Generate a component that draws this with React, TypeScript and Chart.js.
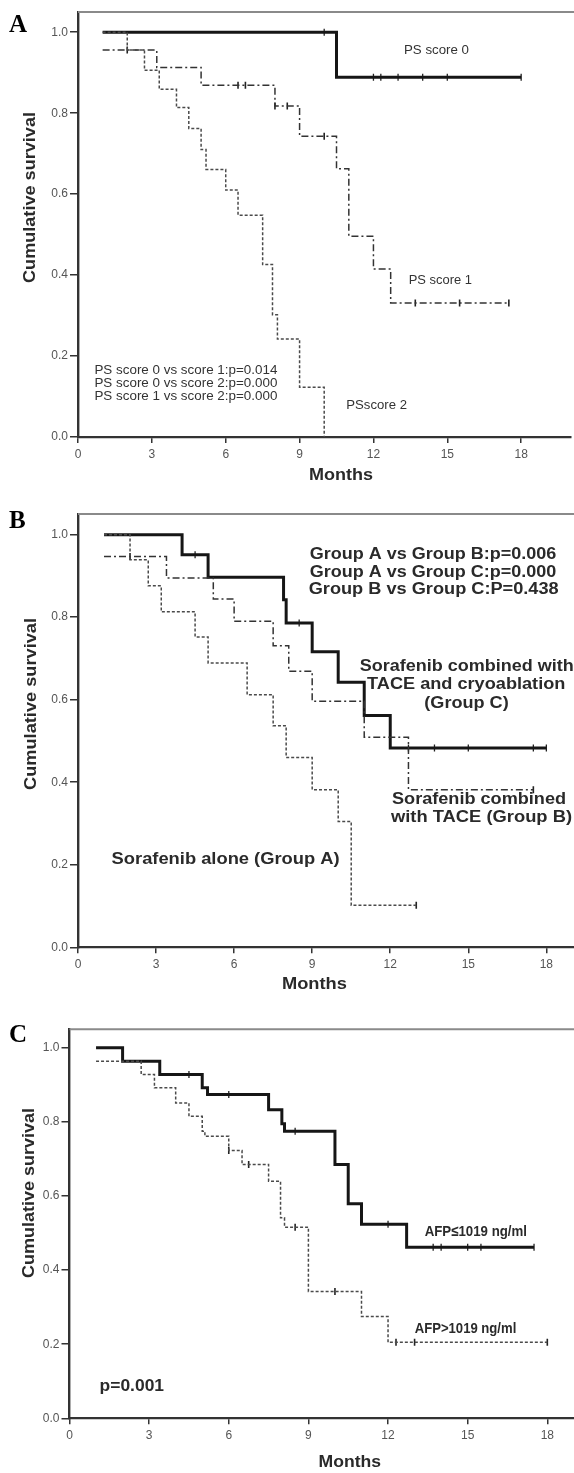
import React, { useEffect, useRef } from "react";
import { Chart, registerables } from "chart.js";

Chart.register(...registerables);

// ---------- shared axis ticks ----------
const monthTicks = [0, 3, 6, 9, 12, 15, 18];
const survivalTicks = [0, 0.2, 0.4, 0.6, 0.8, 1.0];

// ---------- Panel A: PS score ----------
const ps0Times = [1, 10.5, 18];
const ps0Surv = [1.0, 0.889, 0.889];
const ps0Censored = [10.0, 12.0, 12.3, 13.0, 14.0, 15.0, 18.0];

const ps1Times = [1, 3.2, 5.0, 8.0, 9.0, 10.5, 11.0, 12.0, 12.7, 17.5];
const ps1Surv = [0.956, 0.913, 0.869, 0.818, 0.743, 0.663, 0.496, 0.415, 0.331, 0.331];
const ps1Censored = [2.0, 6.5, 6.8, 8.0, 8.5, 10.0, 13.7, 15.5, 17.5];

const ps2Times = [1, 2.0, 2.7, 3.3, 4.0, 4.5, 5.0, 5.2, 6.0, 6.5, 7.5, 7.9, 8.1, 9.0, 10.0];
const ps2Surv = [1.0, 0.956, 0.906, 0.859, 0.814, 0.762, 0.71, 0.661, 0.61, 0.548, 0.426, 0.302, 0.242, 0.123, 0.0];
const ps2Censored: number[] = [];

// ---------- Panel B: treatment groups ----------
const grpCTimes = [1, 4.0, 5.0, 7.9, 8.0, 9.0, 10.0, 11.0, 12.0, 18.0];
const grpCSurv = [1.0, 0.951, 0.897, 0.842, 0.786, 0.716, 0.642, 0.562, 0.483, 0.483];
const grpCCensored = [4.5, 8.5, 12.7, 13.7, 15.0, 17.5, 18.0];

const grpBTimes = [1, 3.4, 5.2, 6.0, 7.5, 8.1, 9.0, 11.0, 12.7, 17.5];
const grpBSurv = [0.947, 0.895, 0.844, 0.79, 0.731, 0.669, 0.596, 0.509, 0.382, 0.382];
const grpBCensored = [2.0, 17.5];

const grpATimes = [1, 2.0, 2.7, 3.2, 4.5, 5.0, 6.5, 7.5, 8.0, 9.0, 10.0, 10.5, 13.0];
const grpASurv = [1.0, 0.939, 0.876, 0.813, 0.752, 0.689, 0.612, 0.537, 0.46, 0.382, 0.305, 0.102, 0.102];
const grpACensored = [13.0];

// ---------- Panel C: AFP ----------
const afpLowTimes = [1, 2.0, 3.4, 5.0, 5.2, 7.5, 8.0, 8.1, 10.0, 10.5, 11.0, 12.7, 17.5];
const afpLowSurv = [1.0, 0.964, 0.928, 0.892, 0.874, 0.833, 0.795, 0.775, 0.685, 0.579, 0.524, 0.462, 0.462];
const afpLowCensored = [4.5, 6.0, 8.5, 12.0, 13.7, 14.0, 15.0, 15.5, 17.5];

const afpHighTimes = [1, 2.7, 3.2, 4.0, 4.5, 5.0, 5.1, 6.0, 6.5, 7.5, 7.95, 8.1, 9.0, 11.0, 12.0, 18.0];
const afpHighSurv = [0.964, 0.928, 0.892, 0.851, 0.815, 0.775, 0.761, 0.723, 0.685, 0.64, 0.541, 0.516, 0.342, 0.275, 0.205, 0.205];
const afpHighCensored = [6.0, 6.75, 8.5, 10.0, 12.3, 13.0, 18.0];

// ---------- helpers ----------
const SANS = '"Liberation Sans", Arial, Helvetica, sans-serif';
const SERIF = '"Liberation Serif", "Times New Roman", serif';

type LineKind = "solid" | "dashdot" | "dotted";

interface Series {
  times: number[];
  surv: number[];
  censored: number[];
  kind: LineKind;
}

interface TextSpec {
  text: string;
  x: number;
  y: number;
  size: number;
  bold?: boolean;
  align?: "left" | "center";
  width?: number;
  rotate?: boolean;
  color?: string;
  serif?: boolean;
  baseline?: "middle" | "alphabetic";
}

interface PanelCfg {
  top: number;
  width: number;
  height: number;
  left: number;
  chartTop: number;
  chartBottom: number;
  series: Series[];
  texts: TextSpec[];
}

function survAt(times: number[], surv: number[], t: number) {
  let v = surv[0];
  for (let i = 0; i < times.length; i++) {
    if (times[i] <= t + 1e-9) v = surv[i];
  }
  return v;
}

const lineStyles: Record<LineKind, any> = {
  solid: { borderColor: "#161616", borderWidth: 3, borderDash: [] },
  dashdot: { borderColor: "#333333", borderWidth: 1.5, borderDash: [7, 3, 2, 3] },
  dotted: { borderColor: "#4a4a4a", borderWidth: 1.5, borderDash: [3, 2] },
};

function buildDatasets(series: Series[]) {
  const ds: any[] = [];
  series.forEach((s) => {
    const st = lineStyles[s.kind];
    ds.push({
      data: s.times.map((t, i) => ({ x: t, y: s.surv[i] })),
      showLine: true,
      stepped: true,
      pointRadius: 0,
      borderColor: st.borderColor,
      borderWidth: st.borderWidth,
      borderDash: st.borderDash,
      fill: false,
    });
    if (s.censored.length) {
      ds.push({
        data: s.censored.map((t) => ({ x: t, y: survAt(s.times, s.surv, t) })),
        showLine: false,
        pointStyle: "line",
        rotation: 90,
        pointRadius: 3.5,
        pointBorderWidth: s.kind === "solid" ? 1.3 : 1.6,
        pointBorderColor: "#222",
        pointBackgroundColor: "#222",
      });
    }
  });
  return ds;
}

function drawText(ctx: CanvasRenderingContext2D, t: TextSpec) {
  ctx.save();
  ctx.font = `${t.bold ? "bold " : ""}${t.size}px ${t.serif ? SERIF : SANS}`;
  ctx.fillStyle = t.color || "#2a2a2a";
  ctx.textAlign = t.align || "left";
  ctx.textBaseline = t.baseline || "middle";
  const w = ctx.measureText(t.text).width;
  const sx = t.width ? t.width / w : 1;
  ctx.translate(t.x, t.y);
  if (t.rotate) ctx.rotate(-Math.PI / 2);
  ctx.scale(sx, 1);
  ctx.fillText(t.text, 0, 0);
  ctx.restore();
}

function buildConfig(cfg: PanelCfg): any {
  const annotate = {
    id: "annotate",
    beforeDatasetsDraw(chart: any) {
      const { ctx, chartArea } = chart;
      ctx.save();
      ctx.strokeStyle = "#8a8a8a";
      ctx.lineWidth = 2;
      ctx.beginPath();
      ctx.moveTo(chartArea.left, chartArea.top);
      ctx.lineTo(chart.width, chartArea.top);
      ctx.stroke();
      ctx.restore();
    },
    afterDraw(chart: any) {
      cfg.texts.forEach((t) => drawText(chart.ctx, t));
    },
  };
  const tickFont = { family: SANS, size: 12 };
  return {
    type: "scatter",
    data: { datasets: buildDatasets(cfg.series) },
    options: {
      animation: false,
      responsive: false,
      events: [],
      layout: { padding: { top: cfg.chartTop, left: 0, right: 0, bottom: 0 } },
      plugins: { legend: { display: false }, tooltip: { enabled: false } },
      scales: {
        x: {
          type: "linear",
          min: 0,
          max: 20,
          position: "bottom",
          afterBuildTicks: (s: any) => {
            s.ticks = monthTicks.map((v) => ({ value: v }));
          },
          afterFit: (s: any) => {
            s.height = cfg.height - cfg.chartBottom;
          },
          grid: { drawOnChartArea: false, drawTicks: true, tickLength: 6, color: "#333", lineWidth: 1.5 },
          border: { display: true, color: "#333", width: 2.2 },
          ticks: {
            color: "#555",
            font: tickFont,
            padding: 4,
            autoSkip: false,
            maxRotation: 0,
            callback: (v: any) => String(v),
          },
        },
        y: {
          type: "linear",
          min: 0,
          max: 1.05,
          position: "left",
          afterBuildTicks: (s: any) => {
            s.ticks = survivalTicks.map((v) => ({ value: v }));
          },
          afterFit: (s: any) => {
            s.width = cfg.left;
          },
          grid: { drawOnChartArea: false, drawTicks: true, tickLength: 8, color: "#333", lineWidth: 1.5 },
          border: { display: true, color: "#333", width: 2.4 },
          ticks: {
            color: "#555",
            font: tickFont,
            padding: 2,
            autoSkip: false,
            callback: (v: any) => Number(v).toFixed(1),
          },
        },
      },
    },
    plugins: [annotate],
  };
}

// ---------- panel layouts ----------
const panelA: PanelCfg = {
  top: 0,
  width: 576,
  height: 490,
  left: 78,
  chartTop: 12,
  chartBottom: 437,
  series: [
    { times: ps2Times, surv: ps2Surv, censored: ps2Censored, kind: "dotted" },
    { times: ps1Times, surv: ps1Surv, censored: ps1Censored, kind: "dashdot" },
    { times: ps0Times, surv: ps0Surv, censored: ps0Censored, kind: "solid" },
  ],
  texts: [
    { text: "A", x: 9, y: 32, size: 25, bold: true, serif: true, baseline: "alphabetic", color: "#000" },
    { text: "Cumulative survival", x: 30, y: 197.5, size: 17, bold: true, align: "center", width: 171, rotate: true },
    { text: "Months", x: 341, y: 475.5, size: 17, bold: true, align: "center", width: 64 },
    { text: "PS score 0", x: 404, y: 50.7, size: 13.5, width: 65, color: "#333" },
    { text: "PS score 1", x: 408.7, y: 280.7, size: 13.5, width: 63.3, color: "#333" },
    { text: "PSscore 2", x: 346.3, y: 405, size: 13.5, width: 60.7, color: "#333" },
    { text: "PS score 0 vs score 1:p=0.014", x: 94.4, y: 370.7, size: 13.5, width: 183, color: "#333" },
    { text: "PS score 0 vs score 2:p=0.000", x: 94.4, y: 383.5, size: 13.5, width: 183, color: "#333" },
    { text: "PS score 1 vs score 2:p=0.000", x: 94.4, y: 396.5, size: 13.5, width: 183, color: "#333" },
  ],
};

const panelB: PanelCfg = {
  top: 490,
  width: 604,
  height: 510,
  left: 78,
  chartTop: 24,
  chartBottom: 457.3,
  series: [
    { times: grpATimes, surv: grpASurv, censored: grpACensored, kind: "dotted" },
    { times: grpBTimes, surv: grpBSurv, censored: grpBCensored, kind: "dashdot" },
    { times: grpCTimes, surv: grpCSurv, censored: grpCCensored, kind: "solid" },
  ],
  texts: [
    { text: "B", x: 9, y: 38, size: 25, bold: true, serif: true, baseline: "alphabetic", color: "#000" },
    { text: "Cumulative survival", x: 31, y: 214, size: 17, bold: true, align: "center", width: 172, rotate: true },
    { text: "Months", x: 314.4, y: 494.5, size: 17, bold: true, align: "center", width: 65 },
    { text: "Group A vs Group B:p=0.006", x: 433, y: 65, size: 16, bold: true, align: "center", width: 246.6 },
    { text: "Group A vs Group C:p=0.000", x: 433, y: 82.7, size: 16, bold: true, align: "center", width: 246.3 },
    { text: "Group B vs Group C:P=0.438", x: 433.7, y: 100, size: 16, bold: true, align: "center", width: 250 },
    { text: "Sorafenib combined with", x: 466.8, y: 176.7, size: 16, bold: true, align: "center", width: 214 },
    { text: "TACE and cryoablation", x: 466.2, y: 195, size: 16, bold: true, align: "center", width: 198.3 },
    { text: "(Group C)", x: 466.5, y: 213.3, size: 16, bold: true, align: "center", width: 84.4 },
    { text: "Sorafenib combined", x: 479, y: 310, size: 16, bold: true, align: "center", width: 174 },
    { text: "with TACE (Group B)", x: 481.5, y: 327.3, size: 16, bold: true, align: "center", width: 181 },
    { text: "Sorafenib alone (Group A)", x: 225.6, y: 369.3, size: 16, bold: true, align: "center", width: 228 },
  ],
};

const panelC: PanelCfg = {
  top: 1000,
  width: 606,
  height: 473,
  left: 69.5,
  chartTop: 29.3,
  chartBottom: 418.3,
  series: [
    { times: afpHighTimes, surv: afpHighSurv, censored: afpHighCensored, kind: "dotted" },
    { times: afpLowTimes, surv: afpLowSurv, censored: afpLowCensored, kind: "solid" },
  ],
  texts: [
    { text: "C", x: 9, y: 42, size: 25, bold: true, serif: true, baseline: "alphabetic", color: "#000" },
    { text: "Cumulative survival", x: 29, y: 193, size: 17, bold: true, align: "center", width: 170, rotate: true },
    { text: "Months", x: 349.8, y: 462, size: 17, bold: true, align: "center", width: 62.5 },
    { text: "AFP≤1019 ng/ml", x: 424.7, y: 231.7, size: 15, bold: true, width: 102.3 },
    { text: "AFP>1019 ng/ml", x: 414.7, y: 329.3, size: 15, bold: true, width: 101.6 },
    { text: "p=0.001", x: 99.6, y: 386.7, size: 16, bold: true, width: 64.4 },
  ],
};

function Panel({ cfg }: { cfg: PanelCfg }) {
  const ref = useRef<HTMLCanvasElement>(null);
  useEffect(() => {
    const chart = new Chart(ref.current as HTMLCanvasElement, buildConfig(cfg));
    return () => chart.destroy();
  }, [cfg]);
  return (
    <canvas
      ref={ref}
      width={cfg.width}
      height={cfg.height}
      style={{ position: "absolute", left: 0, top: cfg.top, width: cfg.width, height: cfg.height, display: "block" }}
    />
  );
}

export default function App() {
  return (
    <div
      style={{
        position: "absolute",
        left: 0,
        top: 0,
        width: 574,
        height: 1473,
        overflow: "hidden",
        background: "#fff",
      }}
    >
      <Panel cfg={panelA} />
      <Panel cfg={panelB} />
      <Panel cfg={panelC} />
    </div>
  );
}
